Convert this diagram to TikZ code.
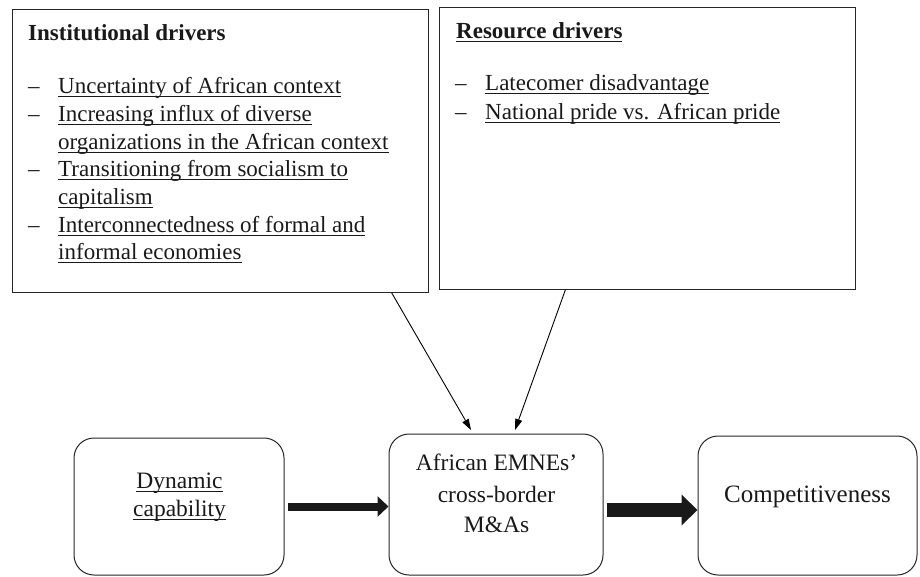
\documentclass[tikz,border=0pt]{standalone}
\usepackage{fontspec}
\setmainfont{Liberation Serif}
\usetikzlibrary{arrows.meta}
\newcommand\myul[1]{\setbox0\hbox{#1}\rlap{\rule[-3.6pt]{\wd0}{1pt}}\box0}
\begin{document}
\begin{tikzpicture}[x=1pt,y=-1pt,
  drvbox/.style={draw=black!85, line width=1pt, inner sep=0, minimum width=416pt},
  rbox/.style={draw=black!85, line width=1pt, rounded corners=20pt, inner sep=0},
  txt/.style={inner sep=0, anchor=base west, font=\fontsize{23}{28}\selectfont, text=black!90},
  ctxt/.style={inner sep=0, anchor=base, font=\fontsize{23.5}{32}\selectfont, text=black!90},
  thin/.style={line width=0.9pt, -{Triangle[length=11pt,width=7pt]}},
  fatarrow/.style={draw=black!90}]
\useasboundingbox (0,0) rectangle (920,576);
% top boxes
\node[drvbox, minimum height=283pt] (inst) at (220,150.5) {};
\node[drvbox, minimum height=282pt] (res) at (647,148) {};
% institutional text
\node[txt, font=\fontsize{23}{28}\selectfont\bfseries] (it) at (28,40) {Institutional drivers};
\node[txt] (id1) at (28,93) {–};
\node[txt] (i1) at (58,93) {\myul{Uncertainty of African context}};
\node[txt] (id2) at (28,121) {–};
\node[txt] (i2a) at (58,121) {\myul{Increasing influx of diverse}};
\node[txt] (i2b) at (58,149) {\myul{organizations in the African context}};
\node[txt] (id3) at (28,176) {–};
\node[txt] (i3a) at (58,176) {\myul{Transitioning from socialism to}};
\node[txt] (i3b) at (58,204) {\myul{capitalism}};
\node[txt] (id4) at (28,232) {–};
\node[txt] (i4a) at (58,232) {\myul{Interconnectedness of formal and}};
\node[txt] (i4b) at (58,259) {\myul{informal economies}};
% resource text
\node[txt, font=\fontsize{23}{28}\selectfont\bfseries] (rt) at (456,38) {\myul{Resource drivers}};
\node[txt] (rd1) at (455,90) {–};
\node[txt] (r1) at (485,90) {\myul{Latecomer disadvantage}};
\node[txt] (rd2) at (455,119) {–};
\node[txt] (r2) at (485,119) {\myul{National pride vs. African pride}};
% bottom boxes
\node[rbox, minimum width=210pt, minimum height=137pt] (dyn) at (179,506.5) {};
\node[rbox, minimum width=214pt, minimum height=141pt] (mid) at (496,504.5) {};
\node[rbox, minimum width=219pt, minimum height=139pt] (comp) at (807.5,505.5) {};
\node[ctxt] (dyn1) at (179.5,488) {\myul{Dynamic}};
\node[ctxt] (dyn2) at (179.5,516) {\myul{capability}};
\node[ctxt] (mid1) at (496.5,470) {African EMNEs’};
\node[ctxt] (mid2) at (496.5,502) {cross-border};
\node[ctxt] (mid3) at (496.5,532) {M\&As};
\node[ctxt, font=\fontsize{25}{32}\selectfont] (comp1) at (807.5,502) {Competitiveness};
% thin arrows
\coordinate (t1) at (471,430);
\coordinate (t2) at (515,430);
\draw[thin] ([xshift=380pt]inst.south west) -- (t1);
\draw[thin] ([xshift=127pt]res.south west) -- (t2);
% thick arrows
\draw[fatarrow, line width=8pt, -{Triangle[length=11pt,width=20pt]}] ([xshift=3pt]dyn.east) -- (mid.west |- dyn.east);
\draw[fatarrow, line width=14pt, -{Triangle[length=16pt,width=30pt]}] ([xshift=3pt,yshift=-5.5pt]mid.east) -- ([yshift=-4.5pt]comp.west);
\end{tikzpicture}
\end{document}
